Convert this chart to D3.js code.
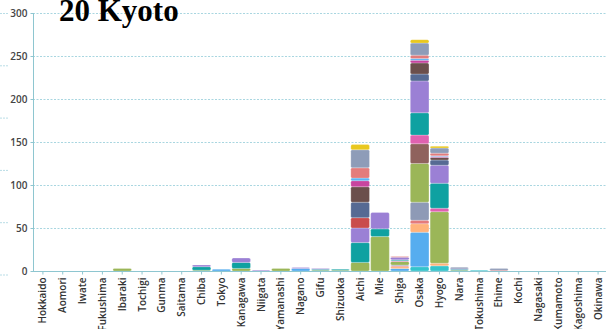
<!DOCTYPE html>
<html>
<head>
<meta charset="utf-8">
<script src="https://cdn.jsdelivr.net/npm/d3@7/dist/d3.min.js"></script>
<style>
  html, body { margin: 0; padding: 0; background: #fff; }
  svg { display: block; }
</style>
</head>
<body>
<svg id="chart" width="606" height="329"></svg>
<script>
// Prefectures along the x axis
const prefectures = ["Hokkaido","Aomori","Iwate","Fukushima","Ibaraki","Tochigi","Gunma","Saitama",
  "Chiba","Tokyo","Kanagawa","Niigata","Yamanashi","Nagano","Gifu","Shizuoka","Aichi","Mie","Shiga",
  "Osaka","Hyogo","Nara","Tokushima","Ehime","Kochi","Nagasaki","Kumamoto","Kagoshima","Okinawa"];

// Stack layers, bottom to top, with their fill colours
const groups = ["g01","g02","g03","g04","g05","g06","g07","g08","g09","g10",
  "g11","g12","g13","g14","g15","g16","g17","g18"];
const groupColors = ["#34c4cb","#56adef","#ffb37c","#e57b7b","#8e9ab6","#9bb658","#8f625d","#e061b0","#0fa1a1","#9b80d5",
  "#c94c4c","#566a93","#6b4f4c","#c8459f","#5cb3f3","#e37c7c","#8e9cb8","#e9c81f"];

// Values per group, one entry per prefecture (same order as above)
const g01 = [0,0,0,0,0,0,0,0,0,0,0,0,0,0,0,0,0,0,0,5,6,0,1,0,0,0,0,0,0];
const g02 = [0,0,0,0,0,0,0,0,0,2,0,0,0,3,0,0,0,0,3,40,0,0,0,0,0,0,0,0,0];
const g03 = [0,0,0,0,0,0,0,0,0,0,0,0,0,0,0,0,0,0,2,10,3,0,0,0,0,0,0,0,0];
const g04 = [0,0,0,0,0,0,0,0,0,0,0,0,0,0,0,0,0,0,1,4,0,0,0,1,0,0,0,0,0];
const g05 = [0,0,0,0,0,0,0,0,0,0,0,0,0,0,0,0,0,0,1,21,0,0,0,2,0,0,0,0,0];
const g06 = [0,0,0,0,3,0,0,0,1,0,3,0,3,0,1,1,10,40,4,45,60,1,0,0,0,0,0,0,0];
const g07 = [0,0,0,0,0,0,0,0,0,0,0,0,0,0,0,0,0,0,0,23,0,0,0,0,0,0,0,0,0];
const g08 = [0,0,0,0,0,0,0,0,0,0,0,0,0,0,0,0,0,0,1,10,4,0,0,0,0,0,0,0,0];
const g09 = [0,0,0,0,0,0,0,0,4,0,7,0,0,0,1,1,23,9,1,26,29,1,0,0,0,0,0,0,0];
const g10 = [0,0,0,0,0,0,0,0,2,0,5,1,0,1,1,0,17,19,3,37,21,1,0,0,0,0,0,0,0];
const g11 = [0,0,0,0,0,0,0,0,0,0,0,0,0,0,0,0,12,0,0,0,0,0,0,0,0,0,0,0,0];
const g12 = [0,0,0,0,0,0,0,0,0,0,0,0,0,0,0,0,18,0,0,8,6,1,0,0,0,0,0,0,0];
const g13 = [0,0,0,0,0,0,0,0,0,0,0,0,0,0,0,0,18,0,0,13,3,0,0,0,0,0,0,0,0];
const g14 = [0,0,0,0,0,0,0,0,0,0,0,0,0,0,0,0,7,0,0,3,1,0,0,0,0,0,0,0,0];
const g15 = [0,0,0,0,0,0,0,0,0,0,0,0,0,0,0,0,3,0,0,2,1,0,0,0,0,0,0,0,0];
const g16 = [0,0,0,0,0,0,0,0,0,0,0,0,0,0,0,0,12,0,1,4,3,0,0,0,0,0,0,0,0];
const g17 = [0,0,0,0,0,0,0,0,0,0,0,0,0,0,0,0,21,0,0,14,6,0,0,0,0,0,0,0,0];
const g18 = [0,0,0,0,0,0,0,0,0,0,0,0,0,0,0,0,6,0,0,4,2,0,0,0,0,0,0,0,0];

const yTicks = [0, 50, 100, 150, 200, 250, 300];
const title = "20 Kyoto";

const series = [g01,g02,g03,g04,g05,g06,g07,g08,g09,g10,g11,g12,g13,g14,g15,g16,g17,g18];

// Build one row per prefecture for d3.stack
const rows = prefectures.map((p, i) => {
  const r = { pref: p };
  groups.forEach((g, k) => { r[g] = series[k][i]; });
  return r;
});

const svg = d3.select("#chart");
const W = 606, H = 329;
const plotLeft = 33, plotRight = 608, plotTop = 13, plotBottom = 271;

const x = d3.scaleBand().domain(prefectures).range([plotLeft, plotRight]).paddingInner(0.06).paddingOuter(0.03);
const y = d3.scaleLinear().domain([0, 300]).range([plotBottom, plotTop]);
const color = d3.scaleOrdinal().domain(groups).range(groupColors);

// Edge of the neighbouring panel's gridlines
svg.append("g").selectAll("line")
  .data(d3.range(6))
  .join("line")
  .attr("x1", 0).attr("x2", 8)
  .attr("y1", d => 13.5 + d * 52.3).attr("y2", d => 13.5 + d * 52.3)
  .attr("stroke", "#b9dde6").attr("stroke-width", 1).attr("stroke-dasharray", "2,1");

// Horizontal gridlines
svg.append("g").selectAll("line")
  .data(yTicks.filter(t => t > 0))
  .join("line")
  .attr("x1", plotLeft).attr("x2", W)
  .attr("y1", d => Math.round(y(d)) + 0.5).attr("y2", d => Math.round(y(d)) + 0.5)
  .attr("stroke", "#a9d6e0").attr("stroke-width", 1).attr("stroke-dasharray", "2,1.5");

// Stacked bars
const stacked = d3.stack().keys(groups)(rows);
svg.append("g").selectAll("g")
  .data(stacked)
  .join("g")
  .attr("fill", d => color(d.key))
  .selectAll("rect")
  .data(d => d.filter(s => s[1] - s[0] > 0))
  .join("rect")
  .attr("x", d => x(d.data.pref))
  .attr("width", x.bandwidth())
  .attr("y", d => y(d[1]))
  .attr("height", d => y(d[0]) - y(d[1]))
  .attr("rx", 1.5)
  .attr("stroke", "#ffffff").attr("stroke-width", 0.4).attr("stroke-opacity", 0.6);

// Y axis
const yAxis = svg.append("g")
  .attr("transform", `translate(${plotLeft + 0.5},0)`)
  .call(d3.axisLeft(y).tickValues(yTicks).tickSize(3).tickPadding(3));
yAxis.select(".domain").attr("stroke", "#8ec6d0").attr("d", `M0,${plotTop}V${plotBottom}`);
yAxis.selectAll(".tick line").attr("stroke", "#8ec6d0");
yAxis.selectAll(".tick text")
  .attr("fill", "#444").attr("font-size", 10).attr("font-family", "'Open Sans', sans-serif")
  .attr("font-weight", 600);

// X axis
const xAxis = svg.append("g")
  .attr("transform", `translate(0,${plotBottom + 0.5})`)
  .call(d3.axisBottom(x).tickSize(3).tickPadding(4));
xAxis.select(".domain").attr("stroke", "#8ec6d0").attr("d", `M${plotLeft},0H${W}`);
xAxis.selectAll(".tick line").attr("stroke", "#8ec6d0");
xAxis.selectAll(".tick text")
  .attr("fill", "#333").attr("font-size", 10).attr("font-family", "'Open Sans', sans-serif")
  .attr("font-weight", 600)
  .attr("text-anchor", "end")
  .attr("transform", "rotate(-90)")
  .attr("x", -6).attr("y", 0).attr("dy", "0.35em");

// Title
svg.append("text")
  .attr("x", 59).attr("y", 21)
  .attr("font-family", "'Liberation Serif', 'Times New Roman', serif")
  .attr("font-weight", "bold").attr("font-size", 31)
  .attr("fill", "#000")
  .text(title);
</script>
</body>
</html>
